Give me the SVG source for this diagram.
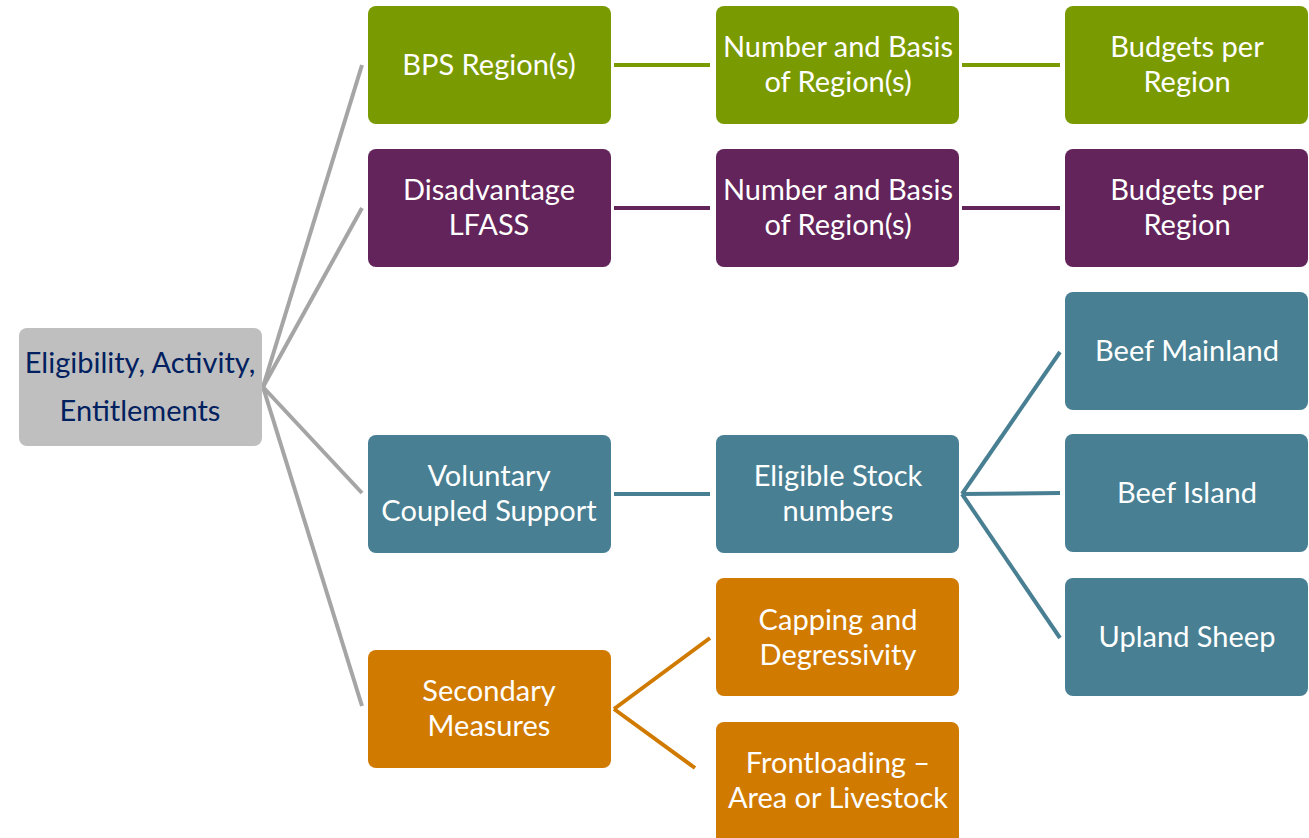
<svg xmlns="http://www.w3.org/2000/svg" width="1309" height="838" viewBox="0 0 1309 838">
<style>
.n rect{rx:8;ry:8}
.t{font-family:Lato,"Liberation Sans",sans-serif;font-size:29px;fill:#ffffff;text-anchor:middle}
.rt{font-family:Lato,"Liberation Sans",sans-serif;font-size:29px;fill:#002060;text-anchor:middle}
.g rect{fill:#7A9A01}.p rect{fill:#62245A}.b rect{fill:#487F93}.o rect{fill:#D07A00}
.c line{stroke-width:4;fill:none}
</style>
<rect width="1309" height="838" fill="#ffffff"/>
<g id="connectors" class="c">
<line x1="263" y1="387" x2="362" y2="65" stroke="#A5A5A5"/>
<line x1="263" y1="387" x2="362" y2="208" stroke="#A5A5A5"/>
<line x1="263" y1="387" x2="362" y2="493" stroke="#A5A5A5"/>
<line x1="263" y1="387" x2="362" y2="706" stroke="#A5A5A5"/>
<line x1="614" y1="65" x2="710" y2="65" stroke="#7A9A01"/>
<line x1="962" y1="65" x2="1060" y2="65" stroke="#7A9A01"/>
<line x1="614" y1="208" x2="710" y2="208" stroke="#62245A"/>
<line x1="962" y1="208" x2="1060" y2="208" stroke="#62245A"/>
<line x1="614" y1="494" x2="710" y2="494" stroke="#487F93"/>
<line x1="962" y1="494" x2="1060" y2="352" stroke="#487F93"/>
<line x1="962" y1="494" x2="1060" y2="493" stroke="#487F93"/>
<line x1="962" y1="494" x2="1060" y2="638" stroke="#487F93"/>
<line x1="614" y1="709" x2="710" y2="638" stroke="#D07A00"/>
<line x1="614" y1="709" x2="695" y2="768" stroke="#D07A00"/>
</g>
<g id="root" class="n"><rect x="19" y="328" width="243" height="118" fill="#BFBFBF"/><text class="rt" x="140" y="373">Eligibility, Activity,</text><text class="rt" x="140" y="421">Entitlements</text></g>
<g id="bps" class="n g"><rect x="368" y="6" width="243" height="118"/><text class="t" x="489" y="75">BPS Region(s)</text></g>
<g id="bps-num" class="n g"><rect x="716" y="6" width="243" height="118"/><text class="t" x="838" y="57">Number and Basis</text><text class="t" x="838" y="92">of Region(s)</text></g>
<g id="bps-budget" class="n g"><rect x="1065" y="6" width="243" height="118"/><text class="t" x="1187" y="57">Budgets per</text><text class="t" x="1187" y="92">Region</text></g>
<g id="dis" class="n p"><rect x="368" y="149" width="243" height="118"/><text class="t" x="489" y="200">Disadvantage</text><text class="t" x="489" y="235">LFASS</text></g>
<g id="dis-num" class="n p"><rect x="716" y="149" width="243" height="118"/><text class="t" x="838" y="200">Number and Basis</text><text class="t" x="838" y="235">of Region(s)</text></g>
<g id="dis-budget" class="n p"><rect x="1065" y="149" width="243" height="118"/><text class="t" x="1187" y="200">Budgets per</text><text class="t" x="1187" y="235">Region</text></g>
<g id="vcs" class="n b"><rect x="368" y="435" width="243" height="118"/><text class="t" x="489" y="486">Voluntary</text><text class="t" x="489" y="521">Coupled Support</text></g>
<g id="stock" class="n b"><rect x="716" y="435" width="243" height="118"/><text class="t" x="838" y="486">Eligible Stock</text><text class="t" x="838" y="521">numbers</text></g>
<g id="beef-main" class="n b"><rect x="1065" y="292" width="243" height="118"/><text class="t" x="1187" y="361">Beef Mainland</text></g>
<g id="beef-island" class="n b"><rect x="1065" y="434" width="243" height="118"/><text class="t" x="1187" y="503">Beef Island</text></g>
<g id="upland" class="n b"><rect x="1065" y="578" width="243" height="118"/><text class="t" x="1187" y="647">Upland Sheep</text></g>
<g id="secondary" class="n o"><rect x="368" y="650" width="243" height="118"/><text class="t" x="489" y="701">Secondary</text><text class="t" x="489" y="736">Measures</text></g>
<g id="capping" class="n o"><rect x="716" y="578" width="243" height="118"/><text class="t" x="838" y="630">Capping and</text><text class="t" x="838" y="665">Degressivity</text></g>
<g id="front" class="n o"><rect x="716" y="722" width="243" height="124"/><text class="t" x="838" y="773">Frontloading –</text><text class="t" x="838" y="808">Area or Livestock</text></g>
</svg>
